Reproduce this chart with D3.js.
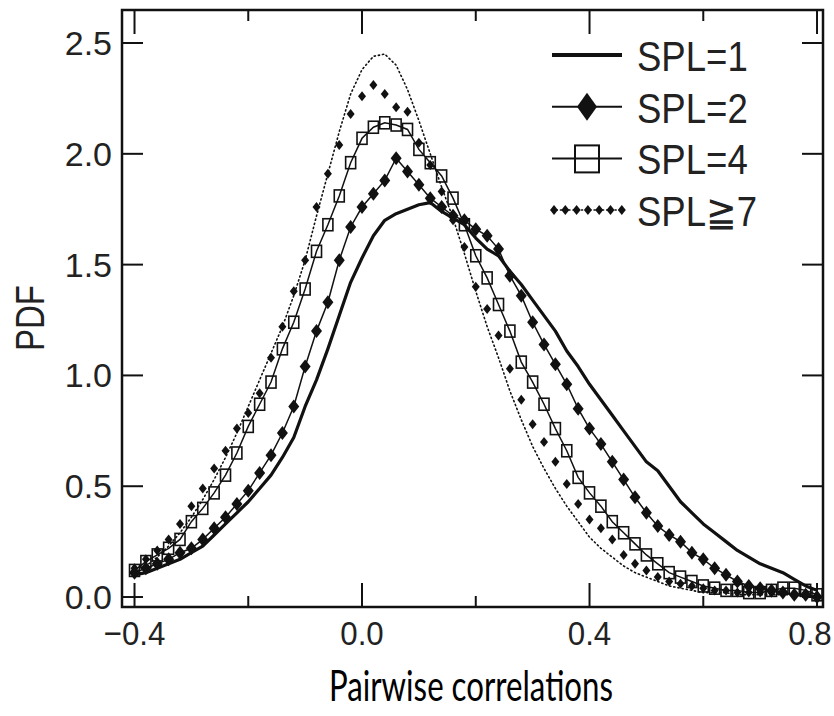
<!DOCTYPE html>
<html>
<head>
<meta charset="utf-8">
<script src="https://cdn.jsdelivr.net/npm/d3@7"></script>
<style>
  body { margin: 0; background: #fff; }
  svg { display: block; }
</style>
</head>
<body>
<svg id="chart"></svg>
<script>
// bin centres (pairwise correlation)
var corr = [-0.40,-0.38,-0.36,-0.34,-0.32,-0.30,-0.28,-0.26,-0.24,-0.22,-0.20,
            -0.18,-0.16,-0.14,-0.12,-0.10,-0.08,-0.06,-0.04,-0.02, 0.00,
             0.02, 0.04, 0.06, 0.08, 0.10, 0.12, 0.14, 0.16, 0.18, 0.20,
             0.22, 0.24, 0.26, 0.28, 0.30, 0.32, 0.34, 0.36, 0.38, 0.40,
             0.42, 0.44, 0.46, 0.48, 0.50, 0.52, 0.54, 0.56, 0.58, 0.60,
             0.62, 0.64, 0.66, 0.68, 0.70, 0.72, 0.74, 0.76, 0.78, 0.80];

// PDF values
var spl1 = [0.10,0.11,0.13,0.15,0.17,0.20,0.23,0.28,0.33,0.38,0.43,
            0.49,0.55,0.63,0.72,0.86,0.98,1.12,1.27,1.42,1.53,
            1.63,1.70,1.73,1.75,1.77,1.78,1.74,1.71,1.68,1.62,
            1.57,1.54,1.47,1.41,1.34,1.27,1.20,1.11,1.04,0.96,
            0.89,0.82,0.75,0.68,0.61,0.57,0.50,0.43,0.38,0.33,
            0.29,0.25,0.21,0.18,0.15,0.13,0.11,0.08,0.05,0.03];
var spl2 = [0.11,0.13,0.15,0.17,0.20,0.22,0.26,0.31,0.36,0.42,0.48,
            0.56,0.64,0.74,0.86,1.04,1.20,1.33,1.52,1.67,1.76,
            1.82,1.88,1.98,1.92,1.86,1.80,1.76,1.72,1.70,1.66,
            1.63,1.57,1.45,1.36,1.24,1.14,1.05,0.96,0.85,0.76,
            0.69,0.61,0.53,0.45,0.38,0.32,0.28,0.25,0.20,0.17,
            0.13,0.10,0.07,0.05,0.04,0.03,0.02,0.01,0.01,0.00];
var spl4 = [0.12,0.16,0.19,0.22,0.26,0.34,0.40,0.47,0.55,0.65,0.77,
            0.87,0.97,1.12,1.24,1.39,1.56,1.68,1.81,1.96,2.07,
            2.12,2.14,2.13,2.11,2.02,1.96,1.90,1.80,1.68,1.54,
            1.44,1.32,1.20,1.06,0.97,0.87,0.76,0.66,0.54,0.47,
            0.41,0.34,0.29,0.24,0.19,0.15,0.11,0.09,0.07,0.05,
            0.04,0.03,0.03,0.02,0.02,0.03,0.04,0.04,0.03,0.01];
var spl7 = [0.13,0.17,0.21,0.26,0.33,0.41,0.49,0.58,0.66,0.76,0.83,
            0.92,1.08,1.22,1.38,1.52,1.76,1.91,2.04,2.18,2.26,
            2.31,2.27,2.21,2.19,2.05,1.95,1.83,1.70,1.58,1.40,
            1.30,1.18,1.03,0.89,0.78,0.70,0.61,0.51,0.42,0.35,
            0.31,0.26,0.19,0.15,0.12,0.09,0.07,0.06,0.05,0.04,
            0.03,0.03,0.02,0.02,0.02,0.02,0.02,0.01,0.01,0.00];
// thin dotted envelope curve (no legend entry)
var dotted = [0.11,0.14,0.18,0.23,0.29,0.36,0.44,0.53,0.63,0.74,0.86,
              0.98,1.10,1.22,1.36,1.52,1.72,1.91,2.10,2.27,2.38,
              2.44,2.45,2.40,2.29,2.15,2.00,1.85,1.71,1.55,1.38,
              1.22,1.08,0.93,0.80,0.68,0.58,0.49,0.41,0.34,0.27,
              0.22,0.18,0.14,0.11,0.09,0.07,0.05,0.04,0.03,0.02,
              0.02,0.02,0.01,0.01,0.01,0.01,0.01,0.01,0.00,0.00];

var xTicks = [-0.4,-0.2,0.0,0.2,0.4,0.6,0.8];
var xLabels = ["\u22120.4","0.0","0.4","0.8"];
var yTicks = [0.0,0.5,1.0,1.5,2.0,2.5];
var yLabels = ["0.0","0.5","1.0","1.5","2.0","2.5"];
var legendNames = ["SPL=1","SPL=2","SPL=4","SPL\u22677"];

var width = 834, height = 716;
var pL = 122, pR = 823, pT = 10, pB = 607;   // plot frame
var ink = "#111";
var tickFont = "'Liberation Sans', Arial, sans-serif";

var svg = d3.select("#chart").attr("width", width).attr("height", height);

var x = d3.scaleLinear().domain([-0.422, 0.8105]).range([pL, pR]);
var y = d3.scaleLinear().domain([-0.045, 2.649]).range([pB, pT]);

var pts = s => corr.map((c, i) => [c, s[i]]);
var line = d3.line().x(d => x(d[0])).y(d => y(d[1]));

var plot = svg.append("g");

// dotted envelope
plot.append("path")
  .attr("d", line(pts(dotted)))
  .attr("fill", "none").attr("stroke", ink)
  .attr("stroke-width", 1.6).attr("stroke-dasharray", "1.2,3")
  .attr("stroke-linecap", "round");

// SPL>=7 : small markers only
plot.append("g").selectAll("path")
  .data(pts(spl7)).enter().append("path")
  .attr("d", "M0,-5L4,0L0,5L-4,0Z")
  .attr("transform", d => `translate(${x(d[0])},${y(d[1])})`)
  .attr("fill", ink);

// SPL=4 : open squares with thin line
plot.append("path")
  .attr("d", line(pts(spl4)))
  .attr("fill", "none").attr("stroke", ink).attr("stroke-width", 1.5);
plot.append("g").selectAll("rect")
  .data(pts(spl4)).enter().append("rect")
  .attr("x", d => x(d[0]) - 5).attr("y", d => y(d[1]) - 6)
  .attr("width", 10).attr("height", 12)
  .attr("fill", "none").attr("stroke", ink).attr("stroke-width", 1.6);

// SPL=2 : filled diamonds with thin line
plot.append("path")
  .attr("d", line(pts(spl2)))
  .attr("fill", "none").attr("stroke", ink).attr("stroke-width", 1.5);
plot.append("g").selectAll("path")
  .data(pts(spl2)).enter().append("path")
  .attr("d", "M0,-7L5.5,0L0,7L-5.5,0Z")
  .attr("transform", d => `translate(${x(d[0])},${y(d[1])})`)
  .attr("fill", ink);

// SPL=1 : thick solid line
plot.append("path")
  .attr("d", line(pts(spl1)))
  .attr("fill", "none").attr("stroke", ink).attr("stroke-width", 3.2)
  .attr("stroke-linejoin", "round");

// frame
svg.append("rect")
  .attr("x", pL).attr("y", pT)
  .attr("width", pR - pL).attr("height", pB - pT)
  .attr("fill", "none").attr("stroke", ink).attr("stroke-width", 2.5);

// x ticks, bottom and top, pointing inwards
var isMajorX = v => Math.abs(Math.round(v / 0.4) * 0.4 - v) < 1e-6;
var xt = svg.append("g").selectAll("g").data(xTicks).enter().append("g");
xt.append("line")
  .attr("x1", d => x(d)).attr("x2", d => x(d))
  .attr("y1", pB).attr("y2", d => pB - (isMajorX(d) ? 24 : 11))
  .attr("stroke", ink).attr("stroke-width", 2);
xt.append("line")
  .attr("x1", d => x(d)).attr("x2", d => x(d))
  .attr("y1", pT).attr("y2", d => pT + (isMajorX(d) ? 24 : 11))
  .attr("stroke", ink).attr("stroke-width", 2);

svg.append("g").selectAll("text")
  .data(xTicks.filter(isMajorX)).enter().append("text")
  .attr("transform", d => `translate(${Math.min(x(d), 810)},645) scale(0.92,1)`)
  .attr("text-anchor", "middle")
  .attr("font-family", tickFont).attr("font-size", 34)
  .attr("fill", "#222")
  .text((d, i) => xLabels[i]);

// y ticks, left and right
var yt = svg.append("g").selectAll("g").data(yTicks).enter().append("g");
yt.append("line")
  .attr("x1", pL).attr("x2", pL + 21)
  .attr("y1", d => y(d)).attr("y2", d => y(d))
  .attr("stroke", ink).attr("stroke-width", 2);
yt.append("line")
  .attr("x1", pR).attr("x2", pR - 21)
  .attr("y1", d => y(d)).attr("y2", d => y(d))
  .attr("stroke", ink).attr("stroke-width", 2);
yt.append("text")
  .attr("x", 112).attr("y", d => y(d) + 12)
  .attr("text-anchor", "end")
  .attr("font-family", tickFont).attr("font-size", 34)
  .attr("fill", "#222")
  .text((d, i) => yLabels[i]);

// axis titles
svg.append("text")
  .attr("transform", "translate(44,318) rotate(-90)")
  .attr("text-anchor", "middle")
  .attr("font-family", tickFont).attr("font-size", 40)
  .attr("textLength", 66).attr("lengthAdjust", "spacingAndGlyphs")
  .attr("fill", "#222")
  .text("PDF");

svg.append("text")
  .attr("x", 471).attr("y", 701)
  .attr("text-anchor", "middle")
  .attr("font-family", "Lato, 'Open Sans', sans-serif").attr("font-size", 43)
  .attr("textLength", 284).attr("lengthAdjust", "spacingAndGlyphs")
  .attr("fill", "#000")
  .text("Pairwise correlations");

// legend
var lg = svg.append("g").selectAll("g")
  .data(legendNames).enter().append("g")
  .attr("transform", (d, i) => `translate(0,${55 + i * 51.7})`);

lg.each(function(d, i) {
  var g = d3.select(this);
  if (i === 0) {
    g.append("line").attr("x1", 552).attr("x2", 622)
      .attr("stroke", ink).attr("stroke-width", 4);
  } else if (i === 1) {
    g.append("line").attr("x1", 552).attr("x2", 622)
      .attr("stroke", ink).attr("stroke-width", 2);
    g.append("path").attr("d", "M587,-14L597,0L587,14L577,0Z").attr("fill", ink);
  } else if (i === 2) {
    g.append("line").attr("x1", 552).attr("x2", 622)
      .attr("stroke", ink).attr("stroke-width", 2);
    g.append("rect").attr("x", 575).attr("y", -13).attr("width", 24).attr("height", 27)
      .attr("fill", "none").attr("stroke", ink).attr("stroke-width", 2);
  } else {
    g.append("line").attr("x1", 552).attr("x2", 622)
      .attr("stroke", ink).attr("stroke-width", 1.5).attr("stroke-dasharray", "1.2,3")
      .attr("stroke-linecap", "round");
    g.selectAll("path").data(d3.range(7)).enter().append("path")
      .attr("d", k => `M${554 + k * 11.3},-5l4,5l-4,5l-4,-5Z`)
      .attr("fill", ink);
  }
  g.append("text")
    .attr("transform", "translate(637,16) scale(0.87,1)")
    .attr("font-family", tickFont).attr("font-size", 42)
    .attr("fill", "#222")
    .text(d);
});
</script>
</body>
</html>
